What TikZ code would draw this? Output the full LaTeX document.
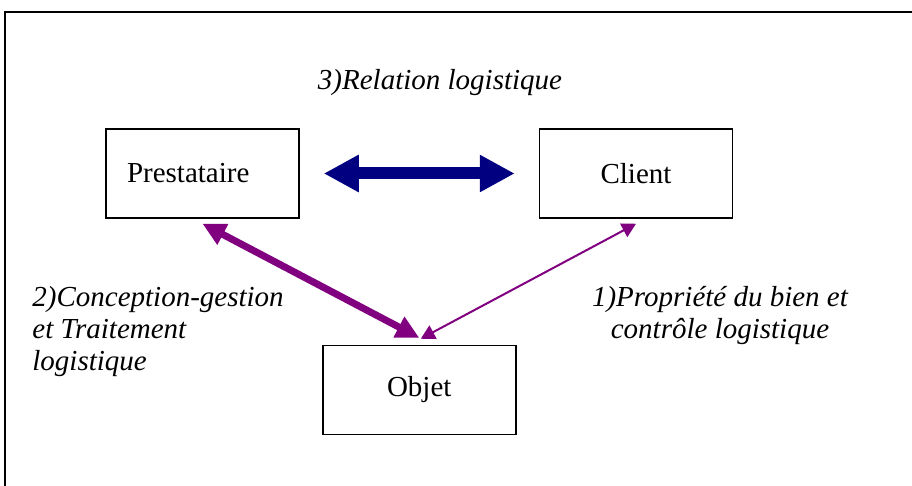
\documentclass[tikz,border=0pt]{standalone}
\usepackage{fontspec}
\setmainfont{Liberation Serif}
\usetikzlibrary{positioning,calc,arrows.meta}
\definecolor{navy}{RGB}{0,0,128}
\definecolor{flowpurple}{RGB}{128,0,128}

\begin{document}
\begin{tikzpicture}[
  x=0.5pt,y=-0.5pt,
  every node/.style={font=\fontsize{14.5}{16}\selectfont},
  entity/.style={draw,line width=0.75pt,minimum width=96.5pt,minimum height=44.5pt,inner sep=0pt},
  caption/.style={font=\fontsize{14.5}{16}\selectfont\itshape,inner sep=0pt},
  rel-main/.style={draw=navy,line width=6pt,{Triangle[length=17.5pt,width=17.5pt]}-{Triangle[length=17.5pt,width=17.5pt]}},
  rel-thick/.style={draw=flowpurple,line width=3.5pt,{Triangle[length=11.5pt,width=11pt]}-{Triangle[length=11.5pt,width=11pt]}},
  rel-thin/.style={draw=flowpurple,line width=1pt,{Triangle[length=7pt,width=7.5pt]}-{Triangle[length=7pt,width=7.5pt]}},
  ]
  \useasboundingbox (0,0) rectangle (912,486);
  \draw [line width=1pt] (5,486) -- (5,12) -- (912,12);

  \node [entity,text width=75.5pt,align=left,inner xsep=10.5pt] (prestataire-box) at (202.5,173.5) {Prestataire};
  \node [entity,right=119.5pt of prestataire-box] (client-box) {Client};
  \coordinate (box-gap) at ($(prestataire-box.south)!0.5!(client-box.south)$);
  \node [entity,below=63pt of box-gap] (objet-box) {Objet};

  \draw [rel-main,shorten <=12pt,shorten >=12pt] (prestataire-box) -- (client-box);
  \draw [rel-thick] ([yshift=-2.5pt]prestataire-box.south) -- ([yshift=3.5pt]objet-box.north);
  \draw [rel-thin] ([yshift=-2.5pt]client-box.south) -- ([xshift=0.75pt,yshift=3pt]objet-box.north);

  % multi-line captions sit on their last baseline
  \node [caption,anchor=base] (relation-text-node) at (440,90) {3)Relation logistique};
  \node [caption,align=left,anchor=base west] (conception-text-node) at (32,371) {2)Conception-gestion\\et Traitement\\logistique};
  \node [caption,align=center,anchor=base] (propriete-text-node) at (720,339) {1)Propriété du bien et\\contrôle logistique};
\end{tikzpicture}
\end{document}
